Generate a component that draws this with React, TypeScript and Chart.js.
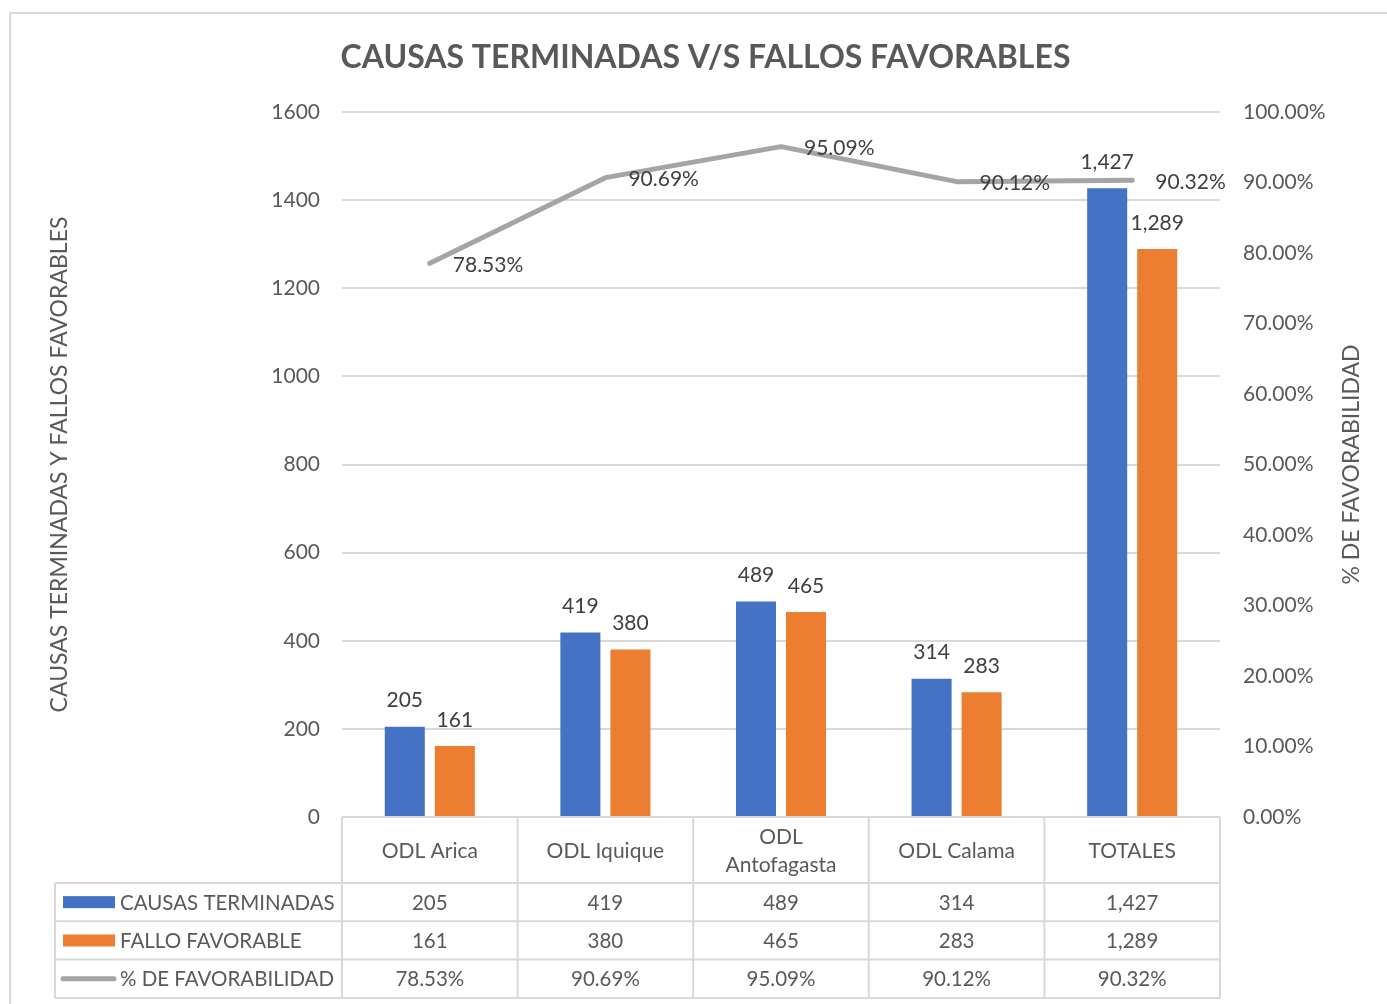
import React, { useEffect, useRef } from "react";
import { Chart, registerables } from "chart.js";

Chart.register(...registerables);

const categories: string[][] = [["ODL Arica"], ["ODL Iquique"], ["ODL", "Antofagasta"], ["ODL Calama"], ["TOTALES"]];
const causasTerminadas = [205, 419, 489, 314, 1427];
const falloFavorable = [161, 380, 465, 283, 1289];
const favorabilidad = [78.53, 90.69, 95.09, 90.12, 90.32];
const leftTicks = { min: 0, max: 1600, step: 200 };
const rightTicks = { min: 0, max: 100, step: 10 };
const rightAxisTitle = "% DE FAVORABILIDAD";

const FONT = "Lato, 'Open Sans', sans-serif";
const BLUE = "#4472C4";
const ORANGE = "#ED7D31";
const GRAY = "#A5A5A5";
const GRID = "#D9D9D9";
const TEXT = "#595959";
const LABEL = "#404040";

const fmtNum = (v: number) => v.toLocaleString("en-US");
const fmtPct = (v: number) => v.toFixed(2) + "%";

const seriesRows = [
  { label: "CAUSAS TERMINADAS", color: BLUE, kind: "bar", values: causasTerminadas.map(fmtNum) },
  { label: "FALLO FAVORABLE", color: ORANGE, kind: "bar", values: falloFavorable.map(fmtNum) },
  { label: "% DE FAVORABILIDAD", color: GRAY, kind: "line", values: favorabilidad.map(fmtPct) },
];

const framePlugin = {
  id: "frame",
  beforeDraw(chart: any) {
    const { ctx } = chart;
    ctx.save();
    ctx.fillStyle = "#ffffff";
    ctx.fillRect(0, 0, chart.width, chart.height);
    ctx.strokeStyle = GRID;
    ctx.lineWidth = 2;
    ctx.strokeRect(10, 13, chart.width + 20, chart.height + 20);
    ctx.restore();
  },
};

const rightTitlePlugin = {
  id: "rightTitle",
  afterDraw(chart: any) {
    const { ctx, chartArea } = chart;
    ctx.save();
    ctx.font = `23px ${FONT}`;
    ctx.fillStyle = TEXT;
    ctx.textAlign = "center";
    ctx.textBaseline = "middle";
    ctx.translate(1352, (chartArea.top + chartArea.bottom) / 2);
    ctx.rotate(-Math.PI / 2);
    ctx.fillText(rightAxisTitle, 0, 0);
    ctx.restore();
  },
};

const labelsPlugin = {
  id: "valueLabels",
  afterDatasetsDraw(chart: any) {
    const { ctx } = chart;
    ctx.save();
    ctx.font = `21px ${FONT}`;
    ctx.fillStyle = LABEL;
    chart.data.datasets.forEach((ds: any, di: number) => {
      const meta = chart.getDatasetMeta(di);
      meta.data.forEach((el: any, i: number) => {
        const v = ds.data[i];
        if (ds.type === "line") {
          ctx.textAlign = "left";
          ctx.textBaseline = "middle";
          ctx.fillText(fmtPct(v), el.x + 23, el.y + 2);
        } else {
          ctx.textAlign = "center";
          ctx.textBaseline = "middle";
          ctx.fillText(fmtNum(v), el.x, el.y - 26);
        }
      });
    });
    ctx.restore();
  },
};

const tablePlugin = {
  id: "dataTable",
  afterDraw(chart: any) {
    const { ctx, chartArea } = chart;
    const n = categories.length;
    const colW = (chartArea.right - chartArea.left) / n;
    const top = chartArea.bottom;
    const headerBottom = top + 66;
    const rowH = 38.3;
    const tableLeft = 55;
    const bottom = headerBottom + rowH * seriesRows.length;
    const line = (x1: number, y1: number, x2: number, y2: number) => {
      ctx.beginPath();
      ctx.moveTo(x1, y1);
      ctx.lineTo(x2, y2);
      ctx.stroke();
    };
    ctx.save();
    ctx.strokeStyle = GRID;
    ctx.lineWidth = 2;
    line(chartArea.left, top, chartArea.right, top);
    for (let r = 0; r <= seriesRows.length; r++) {
      const y = headerBottom + r * rowH;
      line(tableLeft, y, chartArea.right, y);
    }
    for (let i = 0; i <= n; i++) {
      const x = chartArea.left + i * colW;
      line(x, top, x, bottom);
    }
    line(tableLeft, headerBottom, tableLeft, bottom);

    ctx.font = `20.5px ${FONT}`;
    ctx.textBaseline = "middle";
    seriesRows.forEach((row, r) => {
      const cy = headerBottom + r * rowH + rowH / 2;
      if (row.kind === "bar") {
        ctx.fillStyle = row.color;
        ctx.fillRect(63, cy - 6, 52, 12);
      } else {
        ctx.strokeStyle = row.color;
        ctx.lineWidth = 5;
        ctx.lineCap = "round";
        line(63, cy, 114, cy);
      }
      ctx.fillStyle = TEXT;
      ctx.textAlign = "left";
      ctx.fillText(row.label, 120, cy + 1);
      ctx.textAlign = "center";
      row.values.forEach((val, i) => {
        const cx = chartArea.left + (i + 0.5) * colW;
        ctx.fillText(val, cx, cy + 1);
      });
    });
    ctx.restore();
  },
};

export default function App() {
  const canvasRef = useRef<HTMLCanvasElement | null>(null);

  useEffect(() => {
    if (!canvasRef.current) return;
    const chart = new Chart(canvasRef.current, {
      type: "bar",
      data: {
        labels: categories,
        datasets: [
          {
            type: "line",
            label: "% DE FAVORABILIDAD",
            data: favorabilidad,
            yAxisID: "y1",
            borderColor: GRAY,
            backgroundColor: GRAY,
            borderWidth: 5,
            pointRadius: 0,
            borderCapStyle: "round",
            borderJoinStyle: "round",
            tension: 0,
            order: 0,
          } as any,
          {
            type: "bar",
            label: "CAUSAS TERMINADAS",
            data: causasTerminadas,
            yAxisID: "y",
            backgroundColor: BLUE,
            categoryPercentage: 0.57,
            barPercentage: 0.8,
            order: 1,
          },
          {
            type: "bar",
            label: "FALLO FAVORABLE",
            data: falloFavorable,
            yAxisID: "y",
            backgroundColor: ORANGE,
            categoryPercentage: 0.57,
            barPercentage: 0.8,
            order: 1,
          },
        ],
      },
      options: {
        animation: false,
        responsive: true,
        maintainAspectRatio: false,
        layout: { padding: { left: 24, right: 0, top: 0, bottom: 0 } },
        plugins: {
          legend: { display: false },
          tooltip: { enabled: false },
          title: {
            display: true,
            text: "CAUSAS TERMINADAS V/S FALLOS FAVORABLES",
            color: TEXT,
            font: { family: FONT, size: 32, weight: "bold", lineHeight: 1.2 },
            padding: { top: 38, bottom: 35.6 },
          },
        },
        scales: {
          x: {
            grid: { display: false },
            border: { display: false },
            ticks: {
              color: TEXT,
              font: { family: FONT, size: 21, lineHeight: 1.35 },
              padding: 12,
              crossAlign: "center",
              maxRotation: 0,
              autoSkip: false,
            },
            afterFit: (scale: any) => {
              scale.height = 187;
            },
          },
          y: {
            position: "left",
            min: leftTicks.min,
            max: leftTicks.max,
            grid: { color: GRID, lineWidth: 2, drawTicks: false },
            border: { display: false },
            ticks: {
              stepSize: leftTicks.step,
              color: TEXT,
              font: { family: FONT, size: 21 },
              padding: 22,
              callback: (v: any) => String(v),
            },
            title: {
              display: true,
              text: "CAUSAS TERMINADAS Y FALLOS FAVORABLES",
              color: TEXT,
              font: { family: FONT, size: 23, lineHeight: 1.1 },
              padding: { top: 23, bottom: 0 },
            },
            afterFit: (scale: any) => {
              scale.width = 318;
            },
          },
          y1: {
            position: "right",
            min: rightTicks.min,
            max: rightTicks.max,
            grid: { display: false, drawTicks: false },
            border: { display: false },
            ticks: {
              stepSize: rightTicks.step,
              color: TEXT,
              font: { family: FONT, size: 21 },
              padding: 23,
              callback: (v: any) => fmtPct(Number(v)),
            },
            afterFit: (scale: any) => {
              scale.width = 167;
            },
          },
        },
      },
      plugins: [framePlugin, labelsPlugin, tablePlugin, rightTitlePlugin],
    });
    return () => chart.destroy();
  }, []);

  return (
    <div style={{ position: "absolute", left: 0, top: 0, width: 1387, height: 1004 }}>
      <canvas ref={canvasRef} />
    </div>
  );
}
